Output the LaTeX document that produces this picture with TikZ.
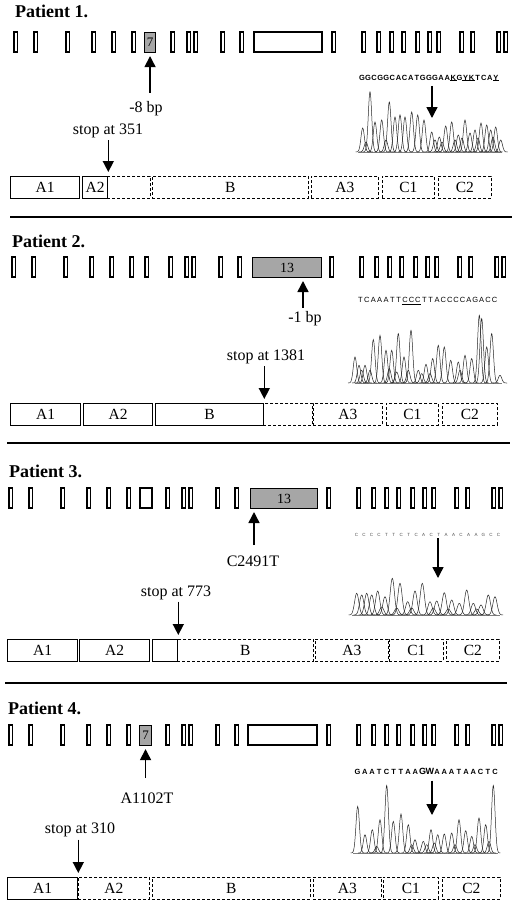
\documentclass[tikz,border=0pt]{standalone}
\usepackage{fontspec}
\setmainfont{Liberation Serif}
\newfontfamily\seqfont{Liberation Sans}
\usetikzlibrary{arrows.meta}

\begin{document}
\begin{tikzpicture}[x=1pt, y=-1pt, every node/.style={font=\fontsize{16}{16}\selectfont},
	title/.style={anchor=base west, inner sep=0pt, font=\fontsize{18}{18}\selectfont\bfseries},
	lbl/.style={anchor=base, inner sep=0pt},
	exbox/.style={draw, line width=1.1pt},
	exmut/.style={draw, line width=1.1pt, fill=black!35, inner sep=0pt, minimum height=20pt, anchor=north west, font=\fontsize{14}{14}\selectfont},
	dom/.style={draw, line width=1.3pt, inner sep=0pt, minimum height=22pt, anchor=north west, font=\fontsize{15.5}{15.5}\selectfont},
	domx/.style={dom, line width=0.8pt, dash pattern=on 3pt off 2pt},
	arr/.style={-{Triangle[length=11pt, width=11pt]}, line width=1.5pt},
	seq/.style={anchor=base, inner sep=0.5pt, font=\seqfont\fontsize{7.5}{8}\selectfont\bfseries},
	trace/.style={line width=0.5pt, black!85},
	base/.style={line width=0.6pt, black!50},
	sep/.style={line width=1.4pt}]
	\useasboundingbox[fill=white] (0,0) rectangle (520,903);

	% patient 1
	\node[title] (t1) at (15,17) {Patient 1.};
	\begin{scope}[shift={(5,32)}]
		\foreach \x in {9,29,61,87,107,127,166,182,189,216,235,327,357,372,385,397,411,423,432,455,466,492,499}
			\draw[exbox] (\x,0) rectangle ++(3.5,20);
	\end{scope}
	\node[exmut, minimum width=11pt, font=\fontsize{13}{13}\selectfont] (p1e7) at (144,32) {7};
	\draw[exbox] (254,32) rectangle (322,52);
	\node[lbl] (p1mut) at (146,112) {-8 bp};
	\draw[arr, shorten <=8pt, shorten >=3pt] (p1e7.south |- p1mut.north) -- (p1e7.south);
	\foreach \n/\t/\a/\b/\s in {a1/A1/10/79/dom, a2/A2/82/107/dom, a2x//107/150/domx, b/B/152/308/domx, a3/A3/311/378/domx, c1/C1/382/434/domx, c2/C2/438/491/domx}
		\node[\s, minimum width=\b-\a] (p1\n) at (\a,176) {\t};
	\node[lbl] (p1stop) at (108,134) {stop at 351};
	\draw[arr, shorten <=2.5pt, shorten >=4pt] (p1a2.north east |- p1stop.south) -- (p1a2.north east);
	\foreach \c [count=\i] in {G,G,C,G,G,C,A,C,A,T,G,G,G,A,A,K,G,Y,K,T,C,A,Y}
		\node[seq] (s1c\i) at ({362+(\i-1)*6.09},80) {\c};
	\foreach \i in {16,18,19,23}
		\draw[line width=0.5pt] (s1c\i.south west) -- (s1c\i.south east);
	\coordinate (p1tip) at (432,118);
	\draw[arr, shorten <=5pt] (p1tip |- s1c12.south) -- (p1tip);
	\draw[base] (358,152) -- (502,152);
	\foreach \px/\ph in {362.7/24, 366/10, 370/60, 375/30, 381.7/32, 386/12, 389.3/50, 395/35, 400/37, 405/35, 411.7/40, 417.7/37, 424/32, 431.7/20, 435/12, 439.3/15, 442/10, 445.7/26, 451.7/30, 455/12, 458.3/17, 462/14, 465/32, 470/19, 475/22, 478/14, 481/29, 486.7/27, 490.7/22, 493/15, 495.7/25, 500.7/12}
		\draw[trace] plot[domain=\px-7:\px+7, samples=29, smooth] (\x,{152-\ph*exp(((\x-\px)*(\px-\x))/6)});
	\draw[sep] (10,217) -- (512,217);

	% patient 2
	\node[title] (t2) at (12,247) {Patient 2.};
	\begin{scope}[shift={(3,257)}]
		\foreach \x in {9,29,61,87,107,127,142,166,182,189,216,235,327,357,372,385,397,411,423,432,455,466,492,499}
			\draw[exbox] (\x,0) rectangle ++(3.5,20);
	\end{scope}
	\node[exmut, minimum width=69pt] (p2e13) at (252,257) {13};
	\coordinate (p2hit) at (303,277);
	\node[lbl] (p2mut) at (305,322) {-1 bp};
	\draw[arr, shorten <=3pt, shorten >=4pt] (p2hit |- p2mut.north) -- (p2hit);
	\foreach \n/\t/\a/\b/\s in {a1/A1/10/80/dom, a2/A2/83/152/dom, b/B/155/263/dom, bx//263/312/domx, a3/A3/313/382/domx, c1/C1/386/438/domx, c2/C2/442/497/domx}
		\node[\s, minimum width=\b-\a] (p2\n) at (\a,403) {\t};
	\node[lbl] (p2stop) at (266,360) {stop at 1381};
	\draw[arr, shorten <=2.5pt, shorten >=4pt] (p2b.north east |- p2stop.south) -- (p2b.north east);
	\foreach \c [count=\i] in {T,C,A,A,A,T,T,C,C,C,T,T,A,C,C,C,C,A,G,A,C,C}
		\node[seq, font=\seqfont\fontsize{7.5}{8}\selectfont] (s2c\i) at ({360.5+(\i-1)*6.38},302.5) {\c};
	\draw[line width=0.8pt] ([yshift=-1.5pt]s2c8.south west) -- ([yshift=-1.5pt]s2c10.south east);
	\draw[base] (355,383) -- (502,383);
	\foreach \px/\ph in {355/26, 359/17.7, 361.7/12.7, 365/17.7, 370/12.7, 373.3/43.4, 380/47.7, 386/32.7, 389.3/14.4, 391.7/32.7, 396.7/11, 398.3/49.4, 404/26, 408.3/12.7, 411/52.7, 418.3/12.7, 421.7/9.4, 426/18.7, 430/9.4, 432.7/24.4, 438.3/37.7, 444.3/36, 450.7/22.7, 458.3/21, 460/12.7, 465/27.7, 471.7/24.4, 479.3/67.7, 481.7/64.4, 486.7/36, 491.7/49.4, 500/7.7}
		\draw[trace] plot[domain=\px-7:\px+7, samples=29, smooth] (\x,{383-\ph*exp(((\x-\px)*(\px-\x))/6)});
	\draw[sep] (7,443) -- (510,443);

	% patient 3
	\node[title] (t3) at (9,477) {Patient 3.};
	\foreach \x in {9,29,61,87,107,127,166,182,189,216,235,327,357,372,385,397,411,423,432,455,466,492,499}
		\draw[exbox] (\x,488) rectangle ++(3.5,20);
	\draw[exbox] (140,488) rectangle (152,508);
	\node[exmut, minimum width=67pt] (p3e13) at (250,488) {13};
	\coordinate (p3hit) at (254,508);
	\node[lbl] (p3mut) at (253,566) {C2491T};
	\draw[arr, shorten <=10pt, shorten >=4pt] (p3hit |- p3mut.north) -- (p3hit);
	\foreach \n/\t/\a/\b/\s in {a1/A1/7/77/dom, a2/A2/79/149/dom, bs//152/177/dom, b/B/177/313/domx, a3/A3/315/388/domx, c1/C1/389/443/domx, c2/C2/446/499/domx}
		\node[\s, minimum width=\b-\a] (p3\n) at (\a,639) {\t};
	\node[lbl] (p3stop) at (176,596) {stop at 773};
	\draw[arr, shorten <=2pt, shorten >=4pt] (p3bs.north east |- p3stop.south) -- (p3bs.north east);
	\foreach \c [count=\i] in {C,C,C,C,T,T,C,T,C,A,C,T,A,A,C,A,A,G,C,C}
		\node[seq, font=\seqfont\fontsize{4.5}{5}\selectfont, black!70] (s3c\i) at ({356.5+(\i-1)*7.47},536) {\c};
	\coordinate (p3tip) at (438,578);
	\draw[arr, shorten <=1.5pt] (p3tip |- s3c12.south) -- (p3tip);
	\draw[base] (352,615) -- (500,615);
	\foreach \px/\ph in {356.7/21.7, 361.7/20, 366.7/21.7, 371.7/20, 377.7/24, 381.7/8, 385/18.3, 392.3/36.7, 396.7/7, 400/31.7, 407.7/13.3, 411.7/7, 415/24, 422.3/31.7, 430/13.3, 433.3/7, 436.7/14, 444.3/22.3, 448.3/6, 451.7/15, 459.3/11.7, 466.7/25, 473.3/11.7, 476.7/6, 481/10, 488.3/20, 495/18.3}
		\draw[trace] plot[domain=\px-8:\px+8, samples=33, smooth] (\x,{615-\ph*exp(((\x-\px)*(\px-\x))/9)});
	\draw[sep] (5,683) -- (507,683);

	% patient 4
	\node[title] (t4) at (8,714) {Patient 4.};
	\foreach \x in {9,29,61,87,107,127,166,182,189,216,235,327,357,372,385,397,411,423,432,455,466,492,499}
		\draw[exbox] (\x,725) rectangle ++(3.5,20);
	\node[exmut, minimum width=12pt, font=\fontsize{13}{13}\selectfont] (p4e7) at (139,725) {7};
	\draw[exbox] (248,725) rectangle (317,745);
	\node[lbl] (p4mut) at (147,803) {A1102T};
	\draw[arr, shorten <=14pt, shorten >=3pt] (p4e7.south |- p4mut.north) -- (p4e7.south);
	\foreach \n/\t/\a/\b/\s in {a1/A1/7/77/dom, a2/A2/78/149/domx, b/B/152/310/domx, a3/A3/313/381/domx, c1/C1/383/438/domx, c2/C2/442/500/domx}
		\node[\s, minimum width=\b-\a] (p4\n) at (\a,877) {\t};
	\node[lbl] (p4stop) at (80,833) {stop at 310};
	\draw[arr, shorten <=3pt, shorten >=4pt] (p4a1.north east |- p4stop.south) -- (p4a1.north east);
	\foreach \c/\f [count=\i] in {G/7.5,A/7.5,A/7.5,T/7.5,C/7.5,T/7.5,T/7.5,A/7.5,A/7.5,G/9,W/9,A/7.5,A/7.5,A/7.5,T/7.5,A/7.5,A/7.5,C/7.5,T/7.5,C/7.5}
		\node[seq, font=\seqfont\fontsize{\f}{9}\selectfont\bfseries] (s4c\i) at ({357.5+(\i-1)*7.24},774.5) {\c};
	\coordinate (p4tip) at (432,815);
	\draw[arr, shorten <=5.5pt] (p4tip |- s4c11.south) -- (p4tip);
	\draw[base] (353,853) -- (498,853);
	\foreach \px/\ph in {357.7/46.6, 365/18.3, 372.3/23.3, 376.7/6.6, 380/33.3, 386.7/67.6, 393.3/31.6, 401/39, 408.3/28.3, 411.7/8.3, 415/13.3, 423.3/11.6, 426.7/8.3, 431/23.3, 434.3/10, 437.7/18.3, 444.3/19, 451.7/20, 455/8.3, 459/33.3, 465.7/22.3, 471.7/16.6, 475/8.3, 479/35, 485.7/28.3, 489/11.6, 493.3/67.6}
		\draw[trace] plot[domain=\px-7:\px+7, samples=29, smooth] (\x,{853-\ph*exp(((\x-\px)*(\px-\x))/6)});
\end{tikzpicture}
\end{document}
